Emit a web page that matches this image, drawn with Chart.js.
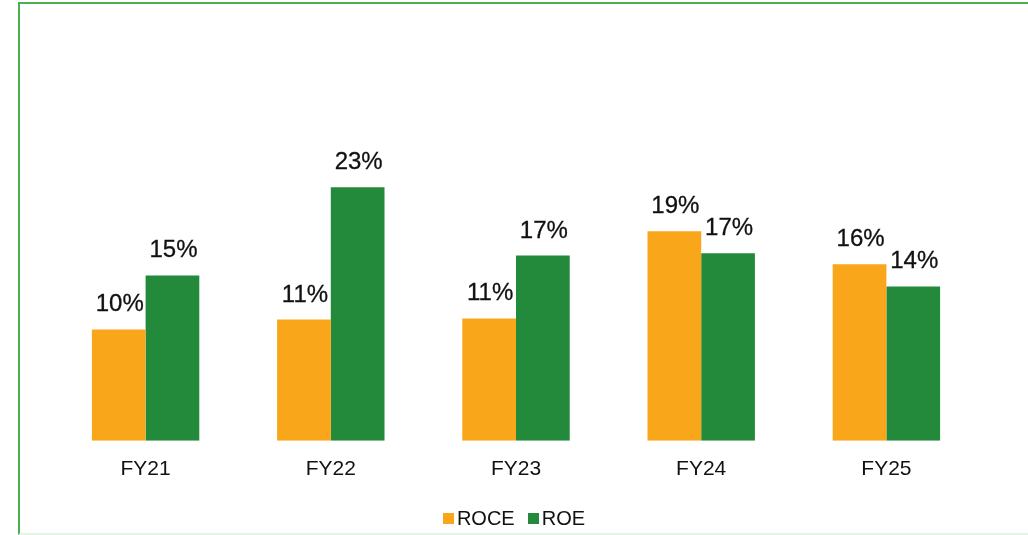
<!DOCTYPE html>
<html>
<head>
<meta charset="utf-8">
<script src="https://cdn.jsdelivr.net/npm/chart.js@4"></script>
<style>
  body { margin: 0; background: #fff; }
  #frame {
    position: absolute; left: 18px; top: 2px;
    width: 1030px; height: 529px;
    border: 2px solid #4caf50;
    border-bottom-color: #e3f4e4;
    border-right: none;
  }
  #wrap { position: absolute; left: 0; top: 0; width: 1028px; height: 535px; }
  #legend {
    position: absolute; left: 0; top: 507px; width: 1028px;
    display: flex; justify-content: center; gap: 13px;
    font-family: "Liberation Sans", Arial, sans-serif; font-size: 20px; color: #111;
  }
</style>
</head>
<body>
<div id="frame"></div>
<div id="wrap"><canvas id="roceChart"></canvas></div>
<div id="legend"></div>
<script>
const years = ['FY21', 'FY22', 'FY23', 'FY24', 'FY25'];
const roce = [10.1, 11.0, 11.1, 19.0, 16.0];
const roe = [15.0, 23.0, 16.8, 17.0, 14.0];

const ORANGE = '#f9a61b';
const GREEN = '#23893b';

// draws the % value above each bar
const valueLabelPlugin = {
    id: 'valueLabels',
    afterDatasetsDraw(chart) {
        const ctx = chart.ctx;
        ctx.save();
        ctx.font = '24px "Liberation Sans", Arial, sans-serif';
        ctx.fillStyle = '#111';
        ctx.strokeStyle = '#111';
        ctx.lineWidth = 0.3;
        ctx.textAlign = 'center';
        ctx.textBaseline = 'alphabetic';
        chart.data.datasets.forEach((dataset, i) => {
            const meta = chart.getDatasetMeta(i);
            meta.data.forEach((bar, j) => {
                const txt = Math.round(dataset.data[j]) + '%';
                ctx.fillText(txt, bar.x + 1, bar.y - 18);
                ctx.strokeText(txt, bar.x + 1, bar.y - 18);
            });
        });
        ctx.restore();
    }
};

const ctx = document.getElementById('roceChart').getContext('2d');
const chart = new Chart(ctx, {
    type: 'bar',
    data: {
        labels: years,
        datasets: [
            { label: 'ROCE', data: roce, backgroundColor: ORANGE },
            { label: 'ROE', data: roe, backgroundColor: GREEN }
        ]
    },
    options: {
        responsive: true,
        maintainAspectRatio: false,
        animation: false,
        layout: { padding: { left: 53, right: 49, top: 110, bottom: 45 } },
        datasets: {
            bar: { barPercentage: 1, categoryPercentage: 0.58 }
        },
        plugins: {
            legend: { display: false },
            tooltip: { enabled: false }
        },
        scales: {
            x: {
                grid: { display: false },
                border: { display: false },
                ticks: {
                    color: '#111',
                    padding: 8,
                    font: { size: 21, family: '"Liberation Sans", Arial, sans-serif' }
                }
            },
            y: {
                display: false,
                min: 0,
                max: 30
            }
        }
    },
    plugins: [valueLabelPlugin]
});

// simple html legend under the chart
const legendBox = document.getElementById('legend');
chart.data.datasets.forEach(dataset => {
    const item = document.createElement('div');
    item.style.display = 'flex';
    item.style.alignItems = 'center';

    const box = document.createElement('span');
    box.style.display = 'inline-block';
    box.style.width = '11px';
    box.style.height = '11px';
    box.style.marginRight = '3px';
    box.style.background = dataset.backgroundColor;

    const text = document.createElement('span');
    text.innerText = dataset.label;

    item.appendChild(box);
    item.appendChild(text);
    legendBox.appendChild(item);
});
</script>
</body>
</html>
